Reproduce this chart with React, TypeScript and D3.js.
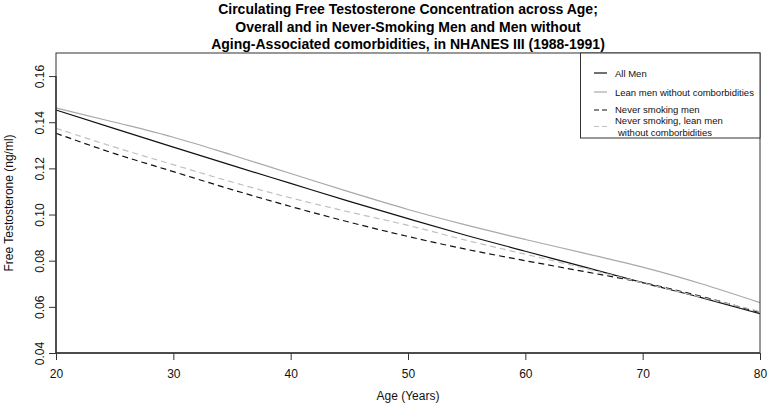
import { useEffect, useRef } from 'react'
import * as d3 from 'd3'

// ages sampled along the curves
const ages = [20, 25, 30, 35, 40, 45, 50, 55, 60, 65, 70, 75, 80]

const allMen = [0.1453, 0.1372, 0.1292, 0.1213, 0.1135, 0.1057, 0.0982, 0.0909, 0.0841, 0.0773, 0.0705, 0.064, 0.057]
const leanMen = [0.1462, 0.14, 0.1335, 0.1258, 0.1178, 0.1098, 0.1022, 0.0954, 0.0892, 0.0833, 0.0772, 0.07, 0.0618]
const neverSmoking = [0.1352, 0.1264, 0.1186, 0.1108, 0.1035, 0.0967, 0.0905, 0.0849, 0.08, 0.0753, 0.0705, 0.0645, 0.0575]
const neverSmokingLean = [0.1374, 0.1292, 0.1216, 0.1141, 0.1072, 0.1011, 0.0953, 0.0888, 0.0828, 0.0768, 0.0704, 0.0642, 0.058]

const xTicks = [20, 30, 40, 50, 60, 70, 80]
const yTicks = [0.04, 0.06, 0.08, 0.1, 0.12, 0.14, 0.16]

const titleLines = [
  'Circulating Free Testosterone Concentration across Age;',
  'Overall and in Never-Smoking Men and Men without',
  'Aging-Associated comorbidities, in NHANES III (1988-1991)',
]

const seriesNames = ['All Men', 'Lean men without comborbidities', 'Never smoking men', 'Never smoking, lean men']

export default function App() {
  const ref = useRef<SVGSVGElement | null>(null)

  useEffect(() => {
    const svg = d3.select(ref.current)
    svg.selectAll('*').remove()

    const font = 'Liberation Sans, Arial, Helvetica, sans-serif'
    const left = 56, right = 760, top = 53, bottom = 353

    const x = d3.scaleLinear().domain([20, 80]).range([left, right])
    const y = d3.scaleLinear().domain([0.04, 0.17]).range([bottom, top])

    const series = [
      { name: seriesNames[0], values: allMen, color: '#111', dash: null },
      { name: seriesNames[1], values: leanMen, color: '#a8a8a8', dash: null },
      { name: seriesNames[2], values: neverSmoking, color: '#111', dash: '6,4' },
      { name: seriesNames[3], values: neverSmokingLean, color: '#c0c0c0', dash: '6,4' },
    ]

    // title
    svg
      .append('g')
      .selectAll('text')
      .data(titleLines)
      .enter()
      .append('text')
      .attr('x', (left + right) / 2)
      .attr('y', (d, i) => 14 + i * 17.5)
      .attr('text-anchor', 'middle')
      .attr('font-family', font)
      .attr('font-weight', 'bold')
      .attr('font-size', 14)
      .text((d) => d)

    // lines
    const line = d3
      .line<number>()
      .x((d, i) => x(ages[i]))
      .y((d) => y(d))
      .curve(d3.curveMonotoneX)

    svg
      .append('g')
      .selectAll('path')
      .data(series)
      .enter()
      .append('path')
      .attr('d', (d) => line(d.values))
      .attr('fill', 'none')
      .attr('stroke', (d) => d.color)
      .attr('stroke-width', 1.2)
      .attr('stroke-dasharray', (d) => d.dash)

    // frame
    svg
      .append('rect')
      .attr('x', left)
      .attr('y', top)
      .attr('width', right - left)
      .attr('height', bottom - top)
      .attr('fill', 'none')
      .attr('stroke', '#333')
      .attr('stroke-width', 1)

    // x axis
    const xAxis = svg
      .append('g')
      .attr('transform', `translate(0,${bottom})`)
      .call(d3.axisBottom(x).tickValues(xTicks).tickSize(7).tickPadding(9).tickFormat(d3.format('d')))
    xAxis.select('.domain').attr('stroke', '#333').attr('stroke-width', 1.4).attr('d', `M${left},0H${right}`)
    xAxis.selectAll('line').attr('stroke', '#333')
    xAxis.selectAll('text').attr('font-family', font).attr('font-size', 12).attr('fill', '#111')

    // y axis
    const yAxis = svg
      .append('g')
      .attr('transform', `translate(${left},0)`)
      .call(d3.axisLeft(y).tickValues(yTicks).tickSize(7).tickFormat(d3.format('.2f')))
    yAxis.select('.domain').attr('stroke', '#333').attr('stroke-width', 1.4).attr('d', `M0,${y(0.04)}V${y(0.16)}`)
    yAxis.selectAll('line').attr('stroke', '#333')
    yAxis
      .selectAll('text')
      .attr('font-family', font)
      .attr('font-size', 12)
      .attr('fill', '#111')
      .attr('x', null)
      .attr('dy', null)
      .attr('text-anchor', 'middle')
      .attr('transform', () => `translate(-12,0) rotate(-90)`)

    // axis titles
    svg
      .append('text')
      .attr('x', (left + right) / 2)
      .attr('y', 400)
      .attr('text-anchor', 'middle')
      .attr('font-family', font)
      .attr('font-size', 12)
      .attr('fill', '#111')
      .text('Age (Years)')

    svg
      .append('text')
      .attr('transform', `translate(13,${(top + bottom) / 2}) rotate(-90)`)
      .attr('text-anchor', 'middle')
      .attr('font-family', font)
      .attr('font-size', 12)
      .attr('fill', '#111')
      .text('Free Testosterone (ng/ml)')

    // legend
    const legend = svg.append('g')
    legend
      .append('rect')
      .attr('x', 580.5)
      .attr('y', top)
      .attr('width', right - 580.5)
      .attr('height', 85)
      .attr('fill', 'white')
      .attr('stroke', '#333')

    const rowY = [73, 92, 110, 126.5]
    series.forEach((s, i) => {
      legend
        .append('line')
        .attr('x1', 594)
        .attr('x2', 607)
        .attr('y1', rowY[i])
        .attr('y2', rowY[i])
        .attr('stroke', s.color)
        .attr('stroke-width', 1.2)
        .attr('stroke-dasharray', s.dash ? '5,3' : null)
    })

    const labels = [
      { t: seriesNames[0], y: 76.5, x: 615 },
      { t: seriesNames[1], y: 95.5, x: 615 },
      { t: seriesNames[2], y: 112.8, x: 615 },
      { t: seriesNames[3], y: 123.5, x: 615 },
      { t: 'without comborbidities', y: 136, x: 618 },
    ]
    legend
      .selectAll('text')
      .data(labels)
      .enter()
      .append('text')
      .attr('x', (d) => d.x)
      .attr('y', (d) => d.y)
      .attr('font-family', font)
      .attr('font-size', 9.5)
      .attr('fill', '#111')
      .text((d) => d.t)
  }, [])

  return (
    <svg
      ref={ref}
      width={768}
      height={412}
      style={{ position: 'absolute', left: 0, top: 0, background: 'white' }}
    />
  )
}
